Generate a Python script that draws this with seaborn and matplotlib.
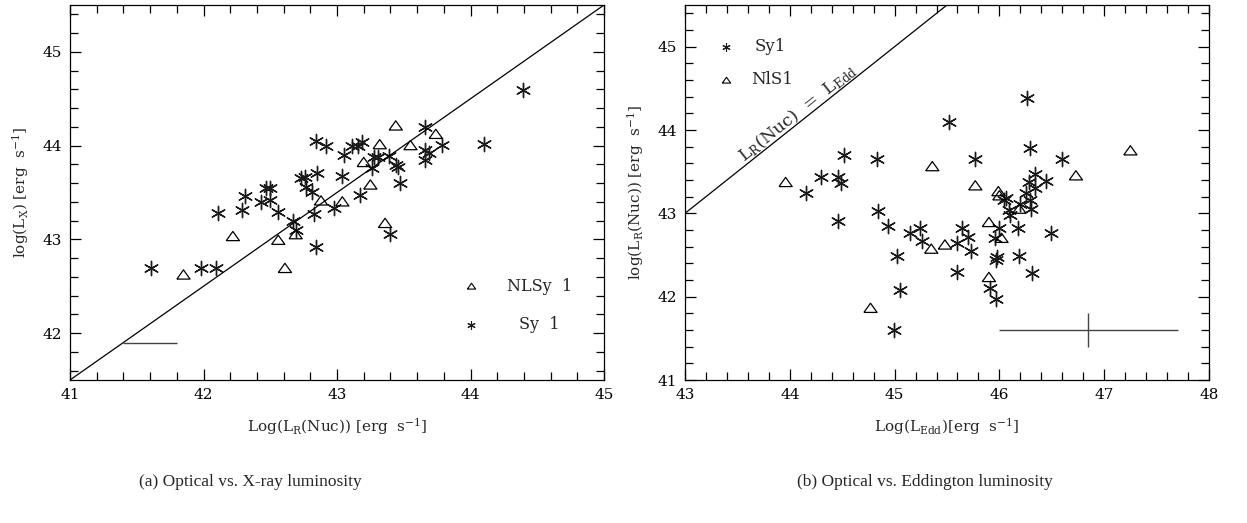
import numpy as np
import matplotlib
matplotlib.use("Agg")
import matplotlib.pyplot as plt
from matplotlib.ticker import MultipleLocator
import seaborn as sns

# ---- panel (a): Log L_R(Nuc) vs log L_X ----
sy1_a_x = [41.61, 41.98, 42.09, 42.11, 42.31, 42.29, 42.43, 42.47, 42.50, 42.50,
           42.56, 42.67, 42.69, 42.73, 42.76, 42.77, 42.81, 42.84, 42.85, 42.83,
           42.84, 42.92, 42.98, 43.04, 43.05, 43.11, 43.16, 43.19, 43.17, 43.26,
           43.28, 43.31, 43.39, 43.44, 43.46, 43.47, 43.40, 43.66, 43.66, 43.66,
           43.69, 43.79, 44.10, 44.39]
sy1_a_y = [42.69, 42.69, 42.69, 43.28, 43.46, 43.31, 43.40, 43.55, 43.55, 43.42,
           43.29, 43.20, 43.10, 43.66, 43.67, 43.56, 43.51, 44.05, 43.71, 43.27,
           42.92, 44.00, 43.33, 43.68, 43.90, 44.00, 44.00, 44.04, 43.47, 43.76,
           43.88, 43.88, 43.89, 43.79, 43.77, 43.60, 43.06, 44.20, 43.95, 43.85,
           43.92, 44.01, 44.02, 44.59]
nls1_a_x = [41.85, 42.22, 42.56, 42.61, 42.69, 42.88, 43.04, 43.20, 43.25, 43.32,
            43.44, 43.36, 43.55, 43.74]
nls1_a_y = [42.62, 43.03, 42.99, 42.69, 43.05, 43.41, 43.40, 43.82, 43.58, 44.01,
            44.21, 43.17, 44.00, 44.12]
a_line_offset = 0.5          # log L_X = log L_R + 0.5
a_err = (41.6, 41.9, 0.2)    # x, y, x error

# ---- panel (b): Log L_Edd vs log L_R(Nuc) ----
sy1_b_x = [44.15, 44.30, 44.46, 44.49, 44.52, 44.46, 44.83, 44.84, 44.94, 45.02,
           45.05, 44.99, 45.15, 45.24, 45.26, 45.52, 45.60, 45.64, 45.70, 45.73,
           45.60, 45.77, 45.91, 45.97, 45.97, 45.98, 45.96, 46.00, 46.04, 46.06,
           46.09, 46.10, 46.18, 46.19, 46.20, 46.25, 46.26, 46.28, 46.29, 46.30,
           46.29, 46.31, 46.34, 46.34, 46.44, 46.49, 46.60]
sy1_b_y = [43.25, 43.44, 43.44, 43.37, 43.70, 42.91, 43.65, 43.03, 42.85, 42.49,
           42.08, 41.60, 42.76, 42.83, 42.67, 44.10, 42.65, 42.82, 42.72, 42.55,
           42.30, 43.65, 42.10, 41.97, 42.44, 42.48, 42.70, 42.83, 43.16, 43.18,
           43.04, 42.98, 42.83, 42.49, 43.11, 43.25, 44.38, 43.38, 43.16, 43.05,
           43.79, 42.29, 43.47, 43.31, 43.39, 42.76, 43.65]
nls1_b_x = [43.96, 44.77, 45.36, 45.48, 45.35, 45.77, 45.90, 45.90, 45.99, 46.00,
            46.02, 46.19, 46.73, 47.25]
nls1_b_y = [43.37, 41.86, 43.56, 42.62, 42.57, 43.33, 42.89, 42.23, 43.26, 43.21,
            42.70, 43.05, 43.45, 43.75]
b_err = (46.85, 41.6, 0.85, 0.2)   # x, y, x error, y error

a_xticks = [41, 42, 43, 44, 45]
a_yticks = [42, 43, 44, 45]
b_xticks = [43, 44, 45, 46, 47, 48]
b_yticks = [41, 42, 43, 44, 45]

STAR = (6, 2, 0)
TRI = [(-1.0, -0.62), (1.0, -0.62), (0.0, 0.78), (-1.0, -0.62)]

sns.set_style("ticks")
plt.rcParams["font.family"] = ["DejaVu Serif"]
plt.rcParams["mathtext.fontset"] = "dejavuserif"

W, H = 1247, 523
fig = plt.figure(figsize=(W / 100, H / 100), dpi=100)
ax1 = fig.add_axes([70 / W, 1 - 380 / H, 534 / W, 375 / H])
ax2 = fig.add_axes([685 / W, 1 - 380 / H, 524 / W, 375 / H])


def draw_points(ax, sx, sy, tx, ty):
    sns.scatterplot(x=sx, y=sy, ax=ax, marker=STAR, s=105, color="#1a1a1a",
                    linewidth=1.0, legend=False)
    sns.scatterplot(x=tx, y=ty, ax=ax, marker=TRI, s=90, facecolor="none",
                    edgecolor="black", linewidth=0.9, legend=False)


def style_axes(ax, xlim, ylim, xticks, yticks):
    ax.set_xlim(*xlim)
    ax.set_ylim(*ylim)
    ax.set_xticks(xticks)
    ax.set_yticks(yticks)
    ax.xaxis.set_minor_locator(MultipleLocator(0.2))
    ax.yaxis.set_minor_locator(MultipleLocator(0.2))
    ax.tick_params(which="both", direction="in", top=True, right=True,
                   width=0.9, colors="black", labelsize=11)
    ax.tick_params(which="major", length=8, pad=6)
    ax.tick_params(which="minor", length=6)
    for sp in ax.spines.values():
        sp.set_visible(True)
        sp.set_linewidth(0.9)
        sp.set_color("black")


# panel (a)
draw_points(ax1, sy1_a_x, sy1_a_y, nls1_a_x, nls1_a_y)
style_axes(ax1, (41, 45), (41.5, 45.5), a_xticks, a_yticks)
lx = np.array(ax1.get_xlim())
ax1.plot(lx, lx + a_line_offset, color="black", lw=0.9)
ax1.errorbar(a_err[0], a_err[1], xerr=a_err[2], color="#444444", lw=1.0, capsize=0)
ax1.set_xlabel(r"Log(L$_{\rm R}$(Nuc)) [erg  s$^{-1}$]", fontsize=11, labelpad=10)
ax1.set_ylabel(r"log(L$_{\rm X}$) [erg  s$^{-1}$]", fontsize=11, labelpad=8)
ax1.plot(44.0, 42.5, marker=TRI, ms=6, mfc="none", mec="black", mew=0.8)
ax1.text(44.27, 42.5, "NLSy  1", fontsize=11.5, va="center")
ax1.plot(44.0, 42.09, marker=STAR, ms=6, color="#1a1a1a", mew=0.8)
ax1.text(44.36, 42.09, "Sy  1", fontsize=11.5, va="center")

# panel (b)
draw_points(ax2, sy1_b_x, sy1_b_y, nls1_b_x, nls1_b_y)
style_axes(ax2, (43, 48), (41, 45.5), b_xticks, b_yticks)
lx = np.array(ax2.get_xlim())
ax2.plot(lx, lx, color="black", lw=0.9)
ax2.errorbar(b_err[0], b_err[1], xerr=b_err[2], yerr=b_err[3], color="#444444",
             lw=1.0, capsize=0)
ax2.set_xlabel(r"Log(L$_{\rm Edd}$)[erg  s$^{-1}$]", fontsize=11, labelpad=10)
ax2.set_ylabel(r"log(L$_{\rm R}$(Nuc)) [erg  s$^{-1}$]", fontsize=11, labelpad=8)
ax2.plot(43.39, 45.0, marker=STAR, ms=6, color="#1a1a1a", mew=0.8)
ax2.text(43.66, 45.0, "Sy1", fontsize=12, va="center")
ax2.plot(43.39, 44.6, marker=TRI, ms=6, mfc="none", mec="black", mew=0.8)
ax2.text(43.63, 44.6, "NlS1", fontsize=12, va="center")

p0 = ax2.transData.transform((43, 43))
p1 = ax2.transData.transform((45, 45))
ang = np.degrees(np.arctan2(p1[1] - p0[1], p1[0] - p0[0]))
ax2.text(44.08, 44.2, r"L$_{\rm R}$(Nuc)  =  L$_{\rm Edd}$", fontsize=12.5,
         rotation=ang, rotation_mode="anchor", ha="center", va="center")

fig.text(250 / W, 1 - 482 / H, "(a) Optical vs. X-ray luminosity",
         family="Liberation Serif", fontsize=12.5, ha="center", va="center")
fig.text(925 / W, 1 - 482 / H, "(b) Optical vs. Eddington luminosity",
         family="Liberation Serif", fontsize=12.5, ha="center", va="center")

fig.savefig("out.png", dpi=100)
